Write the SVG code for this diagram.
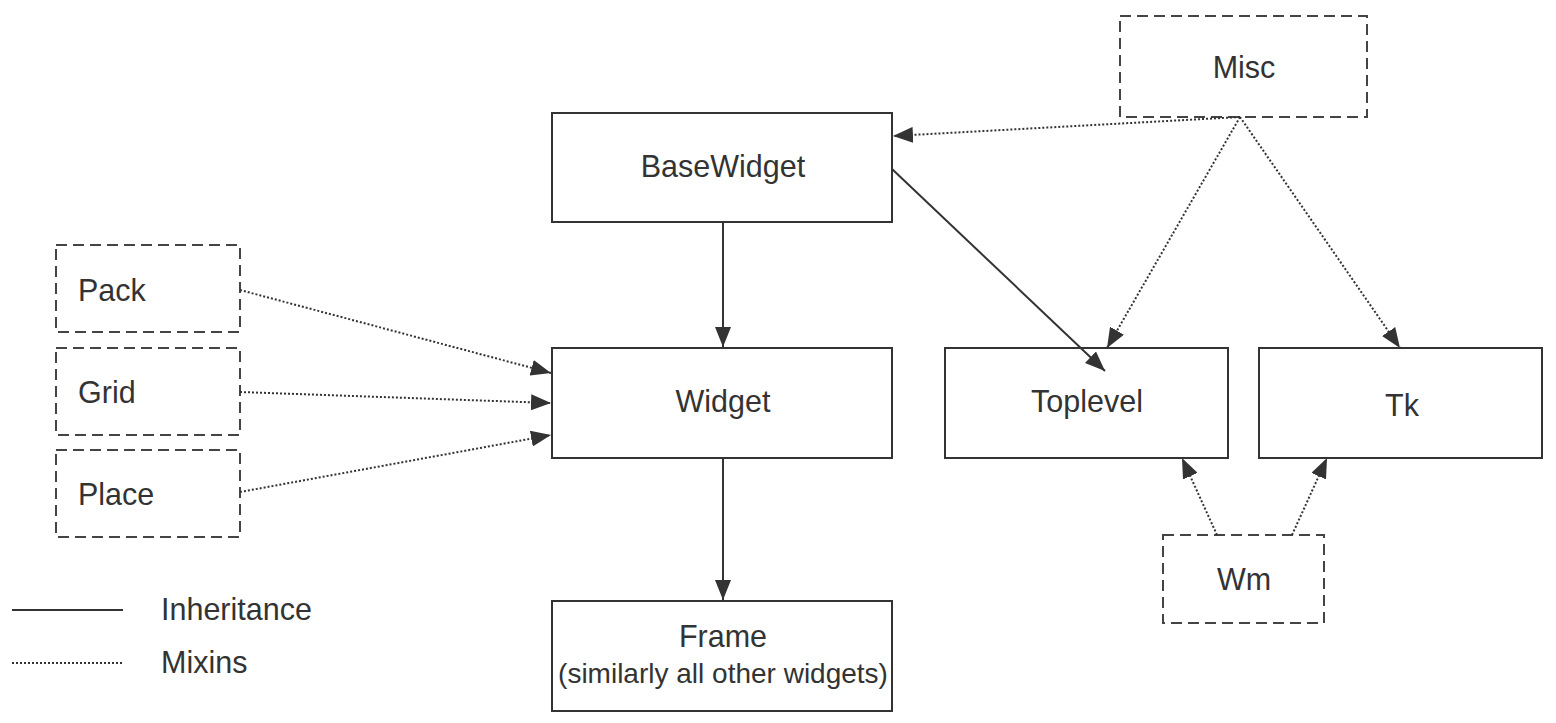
<svg xmlns="http://www.w3.org/2000/svg" width="1556" height="723" viewBox="0 0 1556 723">
<style>
.box{fill:#fff;stroke:#333;stroke-width:2}
.dbox{fill:#fff;stroke:#444;stroke-width:2;stroke-dasharray:11 6}
.t{font-family:"Liberation Sans",Arial,sans-serif;font-size:30.5px;fill:#333;text-anchor:middle}
.tl{font-family:"Liberation Sans",Arial,sans-serif;font-size:30.5px;fill:#333}
.solid{stroke:#333;stroke-width:2;fill:none}
.dot{stroke:#333;stroke-width:2;stroke-dasharray:2 2;fill:none}
</style>
<defs>
<marker id="ah" markerWidth="20" markerHeight="16" refX="20" refY="8" orient="auto" markerUnits="userSpaceOnUse">
<path d="M0,0 L20,8 L0,16 Z" fill="#333"/>
</marker>
</defs>
<rect width="1556" height="723" fill="#fff"/>
<g id="misc"><rect class="dbox" x="1120" y="16" width="247" height="101"/><text class="t" x="1244" y="78">Misc</text></g>
<g id="basewidget"><rect class="box" x="552" y="113" width="340" height="109"/><text class="t" x="723" y="177">BaseWidget</text></g>
<g id="widget"><rect class="box" x="552" y="348" width="340" height="110"/><text class="t" x="723" y="412">Widget</text></g>
<g id="frame"><rect class="box" x="552" y="601" width="340" height="110"/><text class="t" x="723" y="647">Frame</text><text class="t" x="723" y="683" style="font-size:28px">(similarly all other widgets)</text></g>
<g id="toplevel"><rect class="box" x="945" y="348" width="283" height="110"/><text class="t" x="1087" y="412">Toplevel</text></g>
<g id="tk"><rect class="box" x="1259" y="348" width="283" height="110"/><text class="t" x="1402" y="416">Tk</text></g>
<g id="pack"><rect class="dbox" x="56" y="245" width="184" height="87"/><text class="tl" x="78" y="301">Pack</text></g>
<g id="grid"><rect class="dbox" x="56" y="348" width="184" height="87"/><text class="tl" x="78" y="403">Grid</text></g>
<g id="place"><rect class="dbox" x="56" y="450" width="184" height="87"/><text class="tl" x="78" y="505">Place</text></g>
<g id="wm"><rect class="dbox" x="1163" y="535" width="161" height="88"/><text class="t" x="1244" y="590">Wm</text></g>
<g id="connectors">
<line class="solid" x1="723" y1="222" x2="723" y2="347" marker-end="url(#ah)"/>
<line class="solid" x1="723" y1="458" x2="723" y2="600" marker-end="url(#ah)"/>
<line class="solid" x1="892" y1="169" x2="1105" y2="371" marker-end="url(#ah)"/>
<line class="dot" x1="1240" y1="117" x2="893" y2="136" marker-end="url(#ah)"/>
<line class="dot" x1="1240" y1="117" x2="1107" y2="348" marker-end="url(#ah)"/>
<line class="dot" x1="1240" y1="117" x2="1400" y2="348" marker-end="url(#ah)"/>
<line class="dot" x1="240" y1="290" x2="551" y2="373" marker-end="url(#ah)"/>
<line class="dot" x1="240" y1="392" x2="551" y2="403" marker-end="url(#ah)"/>
<line class="dot" x1="240" y1="492" x2="551" y2="435" marker-end="url(#ah)"/>
<line class="dot" x1="1217" y1="535" x2="1182" y2="458" marker-end="url(#ah)"/>
<line class="dot" x1="1292" y1="535" x2="1327" y2="458" marker-end="url(#ah)"/>
</g>
<g id="legend">
<line class="solid" x1="12" y1="610" x2="123" y2="610"/>
<line class="dot" x1="12" y1="663" x2="122" y2="663"/>
<text class="tl" x="161" y="620">Inheritance</text>
<text class="tl" x="161" y="673">Mixins</text>
</g>
</svg>
